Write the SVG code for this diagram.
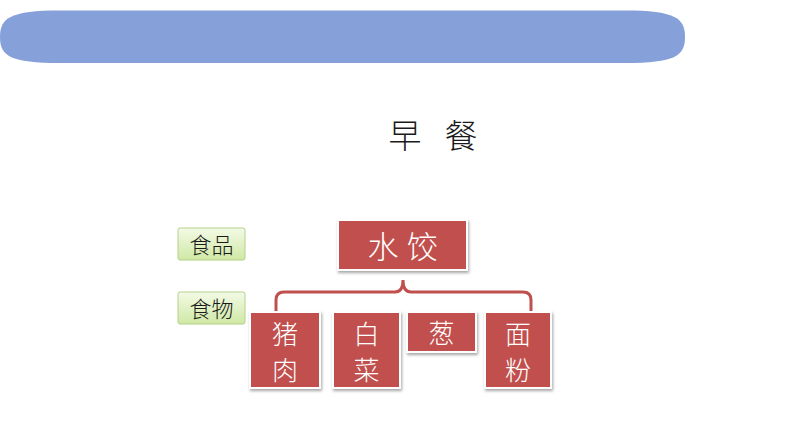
<svg xmlns="http://www.w3.org/2000/svg" width="794" height="447" viewBox="0 0 794 447">
<defs>
<linearGradient id="g" x1="0" y1="0" x2="0" y2="1">
<stop offset="0" stop-color="#f4fae6"/>
<stop offset="1" stop-color="#cfe8a4"/>
</linearGradient>
<filter id="sh" x="-20%" y="-20%" width="140%" height="140%">
<feDropShadow dx="1" dy="2" stdDeviation="1.5" flood-color="#000" flood-opacity="0.35"/>
</filter>
<style>
.red{fill:#c0504d;stroke:#fff;stroke-width:2;filter:url(#sh)}
.grn{fill:url(#g);stroke:#b4d08a;stroke-width:1}
.wt{fill:#fff;font-family:"Noto Sans CJK SC",sans-serif;font-weight:300;text-anchor:middle}
.bt{fill:#1a1a1a;font-family:"Noto Sans CJK SC",sans-serif;font-weight:300;text-anchor:middle}
</style>
</defs>
<path d="M60 10.5 H625 C675 10.5 685 18 685 37 C685 56 675 63 625 63 H60 C10 63 0 56 0 37 C0 18 10 10.5 60 10.5 Z" fill="#86a0d9"/>
<text class="bt" x="405" y="148" font-size="33">早</text>
<text class="bt" x="461" y="148" font-size="33">餐</text>
<g id="label-shipin"><rect class="grn" x="178" y="228" width="67" height="32" rx="2"/><text class="bt" x="211.5" y="253" font-size="22">食品</text></g>
<g id="label-shiwu"><rect class="grn" x="178" y="292" width="67" height="32" rx="2"/><text class="bt" x="211.5" y="317" font-size="22">食物</text></g>
<g id="connectors">
<path d="M276 311 V300 Q276 292 284 292 H395 Q403 292 403 280 Q403 292 411 292 H523 Q531 292 531 300 V311" fill="none" stroke="#c0504d" stroke-width="3"/>
</g>
<g id="shuijiao"><rect class="red" x="338" y="220" width="129" height="50"/><text class="wt" x="383" y="258" font-size="31">水</text><text class="wt" x="422" y="258" font-size="31">饺</text></g>
<g id="zhurou"><rect class="red" x="250" y="312" width="70" height="76"/><text class="wt" x="285" y="344" font-size="26">猪</text><text class="wt" x="285" y="380" font-size="26">肉</text></g>
<g id="baicai"><rect class="red" x="333" y="312" width="67" height="76"/><text class="wt" x="366.5" y="344" font-size="26">白</text><text class="wt" x="366.5" y="380" font-size="26">菜</text></g>
<g id="cong"><rect class="red" x="407" y="312" width="69" height="40"/><text class="wt" x="441.5" y="343" font-size="26">葱</text></g>
<g id="mianfen"><rect class="red" x="485" y="312" width="66" height="76"/><text class="wt" x="518" y="344" font-size="26">面</text><text class="wt" x="518" y="380" font-size="26">粉</text></g>
</svg>
